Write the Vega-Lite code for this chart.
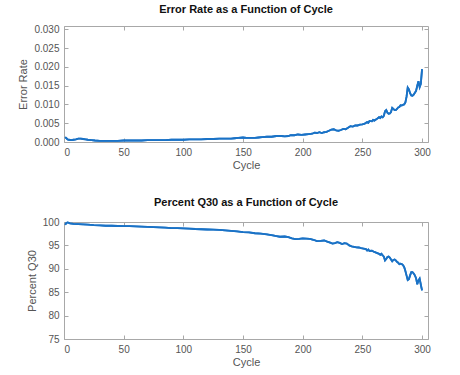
{
"$schema": "https://vega.github.io/schema/vega-lite/v6.json",
"background": "white",
"padding": {"left": 17, "top": 3, "right": 5, "bottom": 5},
"spacing": 25,
"config": {
  "font": "Liberation Sans",
  "view": {"stroke": "#a8a8a8", "strokeWidth": 1},
  "axis": {"labelFont": "Liberation Sans", "labelFontSize": 10, "labelColor": "#555555", "titleFont": "Liberation Sans", "titleFontSize": 11, "titleFontWeight": "normal", "titleColor": "#555555", "domain": false, "tickColor": "#a8a8a8", "tickSize": -4, "labelPadding": 9, "grid": false},
  "title": {"font": "Liberation Sans", "fontSize": 11, "fontWeight": "bold", "color": "#111111", "offset": 9},
  "line": {"color": "#1a72c6", "strokeWidth": 1.8}
},
"datasets": {
"err": [
{"c":1,"v":0.0013},{"c":2,"v":0.0010},{"c":3,"v":0.0007},{"c":4,"v":0.0006},{"c":6,"v":0.0005},{"c":8,"v":0.0006},{"c":10,"v":0.0007},{"c":12,"v":0.0009},{"c":14,"v":0.0009},{"c":16,"v":0.0008},{"c":18,"v":0.0007},{"c":20,"v":0.0006},{"c":23,"v":0.0005},{"c":26,"v":0.0004},{"c":30,"v":0.0003},{"c":35,"v":0.0003},{"c":40,"v":0.0003},{"c":45,"v":0.0003},{"c":50,"v":0.0004},{"c":55,"v":0.0004},{"c":60,"v":0.0004},{"c":65,"v":0.0004},{"c":70,"v":0.0005},{"c":75,"v":0.0005},{"c":80,"v":0.0005},{"c":85,"v":0.0005},{"c":90,"v":0.0006},{"c":95,"v":0.0006},{"c":100,"v":0.0006},{"c":105,"v":0.0007},{"c":110,"v":0.0007},{"c":115,"v":0.0007},{"c":120,"v":0.0008},{"c":125,"v":0.0008},{"c":130,"v":0.0009},{"c":135,"v":0.0009},{"c":140,"v":0.0009},{"c":143,"v":0.0010},{"c":146,"v":0.0011},{"c":150,"v":0.0012},{"c":153,"v":0.0011},{"c":156,"v":0.0011},{"c":160,"v":0.0011},{"c":163,"v":0.0012},{"c":166,"v":0.0013},{"c":170,"v":0.0014},{"c":174,"v":0.0014},{"c":178,"v":0.0016},{"c":182,"v":0.0016},{"c":185,"v":0.0015},{"c":188,"v":0.0016},{"c":190,"v":0.0018},{"c":193,"v":0.0018},{"c":196,"v":0.0020},{"c":199,"v":0.0019},{"c":202,"v":0.0020},{"c":205,"v":0.0021},{"c":208,"v":0.0022},{"c":210,"v":0.0025},{"c":212,"v":0.0024},{"c":214,"v":0.0026},{"c":216,"v":0.0024},{"c":218,"v":0.0026},{"c":220,"v":0.0027},{"c":222,"v":0.0030},{"c":224,"v":0.0033},{"c":226,"v":0.0034},{"c":228,"v":0.0031},{"c":230,"v":0.0030},{"c":232,"v":0.0032},{"c":234,"v":0.0035},{"c":236,"v":0.0034},{"c":238,"v":0.0038},{"c":240,"v":0.0042},{"c":242,"v":0.0041},{"c":244,"v":0.0044},{"c":246,"v":0.0044},{"c":248,"v":0.0046},{"c":250,"v":0.0047},{"c":252,"v":0.0049},{"c":254,"v":0.0053},{"c":255,"v":0.0051},{"c":256,"v":0.0056},{"c":258,"v":0.0055},{"c":259,"v":0.0059},{"c":260,"v":0.0057},{"c":262,"v":0.0061},{"c":264,"v":0.0066},{"c":265,"v":0.0064},{"c":266,"v":0.0068},{"c":267,"v":0.0066},{"c":268,"v":0.0070},{"c":269,"v":0.0082},{"c":270,"v":0.0085},{"c":271,"v":0.0078},{"c":272,"v":0.0075},{"c":273,"v":0.0076},{"c":274,"v":0.0080},{"c":275,"v":0.0091},{"c":276,"v":0.0088},{"c":277,"v":0.0085},{"c":278,"v":0.0085},{"c":279,"v":0.0088},{"c":280,"v":0.0092},{"c":281,"v":0.0093},{"c":282,"v":0.0098},{"c":283,"v":0.0097},{"c":284,"v":0.0099},{"c":285,"v":0.0100},{"c":286,"v":0.0105},{"c":287,"v":0.0120},{"c":288,"v":0.0145},{"c":289,"v":0.0140},{"c":290,"v":0.0130},{"c":291,"v":0.0124},{"c":292,"v":0.0123},{"c":293,"v":0.0126},{"c":294,"v":0.0131},{"c":295,"v":0.0136},{"c":296,"v":0.0150},{"c":297,"v":0.0162},{"c":298,"v":0.0146},{"c":299,"v":0.0155},{"c":300,"v":0.0194}
],
"q30": [
{"c":1,"v":99.4},{"c":2,"v":99.8},{"c":3,"v":99.9},{"c":4,"v":99.8},{"c":5,"v":99.7},{"c":8,"v":99.6},{"c":12,"v":99.55},{"c":16,"v":99.5},{"c":20,"v":99.45},{"c":25,"v":99.35},{"c":30,"v":99.3},{"c":35,"v":99.2},{"c":40,"v":99.2},{"c":45,"v":99.15},{"c":50,"v":99.1},{"c":55,"v":99.1},{"c":60,"v":99.05},{"c":65,"v":99.0},{"c":70,"v":98.95},{"c":75,"v":98.9},{"c":80,"v":98.85},{"c":85,"v":98.8},{"c":90,"v":98.7},{"c":95,"v":98.7},{"c":100,"v":98.65},{"c":105,"v":98.6},{"c":110,"v":98.5},{"c":115,"v":98.45},{"c":120,"v":98.4},{"c":125,"v":98.35},{"c":130,"v":98.3},{"c":135,"v":98.2},{"c":140,"v":98.1},{"c":145,"v":98.0},{"c":150,"v":97.85},{"c":155,"v":97.8},{"c":160,"v":97.6},{"c":165,"v":97.5},{"c":170,"v":97.35},{"c":175,"v":97.15},{"c":178,"v":97.0},{"c":181,"v":96.85},{"c":185,"v":96.9},{"c":188,"v":96.75},{"c":191,"v":96.5},{"c":194,"v":96.35},{"c":197,"v":96.4},{"c":200,"v":96.5},{"c":203,"v":96.45},{"c":206,"v":96.4},{"c":209,"v":96.2},{"c":212,"v":95.9},{"c":215,"v":95.95},{"c":218,"v":96.05},{"c":220,"v":95.85},{"c":223,"v":95.6},{"c":225,"v":95.4},{"c":227,"v":95.5},{"c":229,"v":95.7},{"c":231,"v":95.55},{"c":233,"v":95.3},{"c":235,"v":95.5},{"c":237,"v":95.4},{"c":239,"v":95.0},{"c":241,"v":94.8},{"c":243,"v":94.7},{"c":245,"v":94.6},{"c":247,"v":94.55},{"c":249,"v":94.4},{"c":251,"v":94.3},{"c":253,"v":94.2},{"c":254,"v":93.9},{"c":255,"v":94.1},{"c":256,"v":93.8},{"c":258,"v":93.85},{"c":260,"v":93.6},{"c":262,"v":93.4},{"c":264,"v":93.2},{"c":265,"v":93.0},{"c":266,"v":93.2},{"c":267,"v":92.9},{"c":268,"v":92.6},{"c":269,"v":91.8},{"c":270,"v":92.1},{"c":271,"v":92.5},{"c":272,"v":92.6},{"c":273,"v":92.4},{"c":274,"v":92.0},{"c":275,"v":91.6},{"c":276,"v":91.9},{"c":277,"v":92.0},{"c":278,"v":91.8},{"c":279,"v":91.5},{"c":280,"v":91.3},{"c":281,"v":91.0},{"c":282,"v":91.1},{"c":283,"v":91.0},{"c":284,"v":90.8},{"c":285,"v":90.4},{"c":286,"v":89.6},{"c":287,"v":88.6},{"c":288,"v":87.6},{"c":289,"v":87.8},{"c":290,"v":88.6},{"c":291,"v":89.3},{"c":292,"v":89.3},{"c":293,"v":89.0},{"c":294,"v":88.6},{"c":295,"v":88.0},{"c":296,"v":86.7},{"c":297,"v":87.5},{"c":298,"v":87.9},{"c":299,"v":86.6},{"c":300,"v":85.4}
]
},
"vconcat": [
{
  "title": "Error Rate as a Function of Cycle",
  "width": 364, "height": 116,
  "data": {"name": "err"},
  "layer": [
    {"mark": {"type": "line"},
     "encoding": {
       "x": {"field": "c", "type": "quantitative", "title": "Cycle", "scale": {"domain": [0, 305], "nice": false, "zero": false}, "axis": {"values": [0,50,100,150,200,250,300], "titlePadding": 2}},
       "y": {"field": "v", "type": "quantitative", "title": "Error Rate", "scale": {"domain": [0, 0.0309], "nice": false}, "axis": {"values": [0,0.005,0.01,0.015,0.02,0.025,0.03], "format": ".3f", "titlePadding": 5}}
     }},
    {"mark": {"type": "line"},
     "encoding": {
       "x": {"field": "c", "type": "quantitative", "scale": {"domain": [0, 305], "nice": false, "zero": false}, "axis": {"orient": "top", "values": [0,50,100,150,200,250,300], "labels": false, "title": null}},
       "y": {"field": "v", "type": "quantitative", "scale": {"domain": [0, 0.0309], "nice": false}, "axis": {"orient": "right", "values": [0,0.005,0.01,0.015,0.02,0.025,0.03], "labels": false, "title": null}}
     }}
  ],
  "resolve": {"scale": {"x": "independent", "y": "independent"}}
},
{
  "title": "Percent Q30 as a Function of Cycle",
  "width": 364, "height": 117,
  "data": {"name": "q30"},
  "layer": [
    {"mark": {"type": "line"},
     "encoding": {
       "x": {"field": "c", "type": "quantitative", "title": "Cycle", "scale": {"domain": [0, 305], "nice": false, "zero": false}, "axis": {"values": [0,50,100,150,200,250,300], "titlePadding": 2}},
       "y": {"field": "v", "type": "quantitative", "title": "Percent Q30", "scale": {"domain": [75, 100], "nice": false, "zero": false}, "axis": {"values": [75,80,85,90,95,100], "titlePadding": 5}}
     }},
    {"mark": {"type": "line"},
     "encoding": {
       "x": {"field": "c", "type": "quantitative", "scale": {"domain": [0, 305], "nice": false, "zero": false}, "axis": {"orient": "top", "values": [0,50,100,150,200,250,300], "labels": false, "title": null}},
       "y": {"field": "v", "type": "quantitative", "scale": {"domain": [75, 100], "nice": false, "zero": false}, "axis": {"orient": "right", "values": [75,80,85,90,95,100], "labels": false, "title": null}}
     }}
  ],
  "resolve": {"scale": {"x": "independent", "y": "independent"}}
}
]
}
